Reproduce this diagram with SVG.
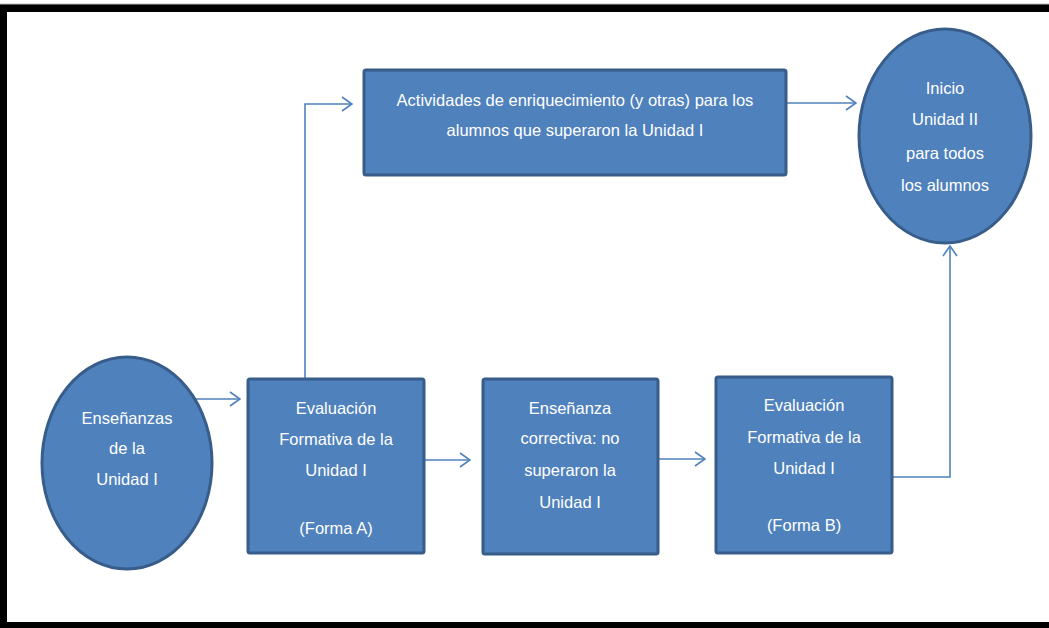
<svg xmlns="http://www.w3.org/2000/svg" width="1049" height="628" viewBox="0 0 1049 628">
<defs>
<style>
.node{fill:#4f81bd;stroke:#385d8a;stroke-width:3}
.lbl{font-family:"Liberation Sans",Arial,sans-serif;font-size:16.5px;fill:#ffffff;text-anchor:middle}
.conn{fill:none;stroke:#4f81bd;stroke-width:1.6}
</style>
<marker id="arr" viewBox="0 0 12 16" refX="11" refY="8" markerWidth="12" markerHeight="16" markerUnits="userSpaceOnUse" orient="auto">
<path d="M1,1 L11,8 L1,15" fill="none" stroke="#4f81bd" stroke-width="1.6"/>
</marker>
</defs>
<rect x="0" y="0" width="1049" height="628" fill="#ffffff"/>
<g id="frame">
<rect x="0" y="4" width="1049" height="8" fill="#000000"/>
<rect x="0" y="4" width="7" height="624" fill="#000000"/>
<rect x="0" y="622" width="1049" height="6" fill="#000000"/>
<line x1="0" y1="4" x2="1049" y2="4" stroke="#bbbbbb" stroke-width="1"/>
</g>
<g id="connectors">
<path class="conn" d="M193,399 L240,399" marker-end="url(#arr)"/>
<path class="conn" d="M424,460 L470,460" marker-end="url(#arr)"/>
<path class="conn" d="M658,459 L705,459" marker-end="url(#arr)"/>
<path class="conn" d="M305,378 L305,104 L352,104" marker-end="url(#arr)"/>
<path class="conn" d="M787,103 L856,103" marker-end="url(#arr)"/>
<path class="conn" d="M893,477 L950,477 L950,246" marker-end="url(#arr)"/>
</g>
<g id="ensenanzas">
<ellipse class="node" cx="127" cy="463" rx="85" ry="106"/>
<text class="lbl"><tspan x="127" y="424">Enseñanzas</tspan><tspan x="127" y="454">de la</tspan><tspan x="127" y="485">Unidad I</tspan></text>
</g>
<g id="evalA">
<rect class="node" x="248" y="379" width="176" height="174" rx="2"/>
<text class="lbl"><tspan x="336" y="414">Evaluación</tspan><tspan x="336" y="445">Formativa de la</tspan><tspan x="336" y="476">Unidad I</tspan><tspan x="336" y="534">(Forma A)</tspan></text>
</g>
<g id="correctiva">
<rect class="node" x="483" y="379" width="175" height="175" rx="2"/>
<text class="lbl"><tspan x="570" y="414">Enseñanza</tspan><tspan x="570" y="444">correctiva: no</tspan><tspan x="570" y="476">superaron la</tspan><tspan x="570" y="508">Unidad I</tspan></text>
</g>
<g id="evalB">
<rect class="node" x="716" y="377" width="176" height="176" rx="2"/>
<text class="lbl"><tspan x="804" y="411">Evaluación</tspan><tspan x="804" y="443">Formativa de la</tspan><tspan x="804" y="474">Unidad I</tspan><tspan x="804" y="531">(Forma B)</tspan></text>
</g>
<g id="actividades">
<rect class="node" x="364" y="70" width="422" height="105" rx="2"/>
<text class="lbl"><tspan x="575" y="106">Actividades de enriquecimiento (y otras) para los</tspan><tspan x="575" y="136">alumnos que superaron la Unidad I</tspan></text>
</g>
<g id="inicio">
<ellipse class="node" cx="945" cy="136" rx="86" ry="107"/>
<text class="lbl"><tspan x="945" y="94">Inicio</tspan><tspan x="945" y="125">Unidad II</tspan><tspan x="945" y="159">para todos</tspan><tspan x="945" y="191">los alumnos</tspan></text>
</g>
</svg>
